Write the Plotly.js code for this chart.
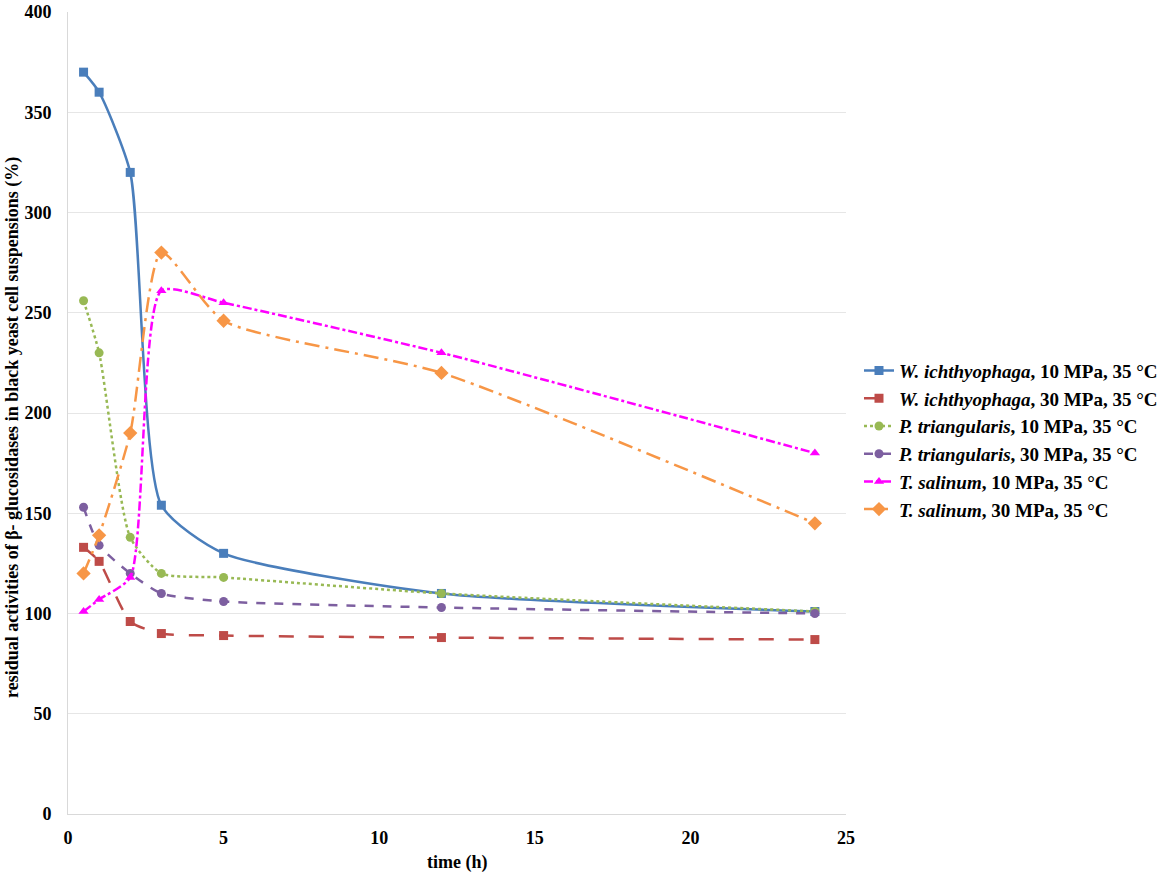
<!DOCTYPE html>
<html>
<head>
<meta charset="utf-8">
<script src="https://cdn.plot.ly/plotly-3.0.1.min.js"></script>
<style>body{margin:0;background:#fff;} #chart{width:1166px;height:877px;}</style>
</head>
<body>
<div id="chart"></div>
<script>
var times = [0.5, 1, 2, 3, 5, 12, 24];

var wich10 = [370, 360, 320, 154, 130, 110, 101];
var wich30 = [133, 126, 96, 90, 89, 88, 87];
var ptri10 = [256, 230, 138, 120, 118, 110, 101];
var ptri30 = [153, 134, 120, 110, 106, 103, 100];
var tsal10 = [101, 107, 118, 261, 255, 230, 180];
var tsal30 = [120, 139, 190, 280, 246, 220, 145];

var seriesNames = [
  "<i>W. ichthyophaga</i>, 10 MPa, 35 °C",
  "<i>W. ichthyophaga</i>, 30 MPa, 35 °C",
  "<i>P. triangularis</i>, 10 MPa, 35 °C",
  "<i>P. triangularis</i>, 30 MPa, 35 °C",
  "<i>T. salinum</i>, 10 MPa, 35 °C",
  "<i>T. salinum</i>, 30 MPa, 35 °C"
];
var seriesValues = [wich10, wich30, ptri10, ptri30, tsal10, tsal30];
var colors = ["#4a7ebb", "#be4b48", "#98b954", "#7d5fa0", "#ff00ff", "#f79646"];
var dashes = ["solid", "longdash", "dot", "dash", "dashdot", "longdashdot"];
var symbols = ["square", "square", "circle", "circle", "triangle-up", "diamond"];

var xTitle = "time (h)";
var yTitle = "residual activities of β- glucosidases in black yeast cell suspensions (%)";

var data = [];
for (var i = 0; i < seriesValues.length; i++) {
  data.push({
    type: "scatter",
    mode: "lines+markers",
    x: times,
    y: seriesValues[i],
    name: seriesNames[i],
    line: {color: colors[i], width: 2.5, dash: dashes[i], shape: "spline", smoothing: 0.6},
    marker: {color: colors[i], size: symbols[i] == "diamond" ? 11 : 9, symbol: symbols[i]}
  });
}

var layout = {
  width: 1166,
  height: 877,
  paper_bgcolor: "#fff",
  plot_bgcolor: "#fff",
  font: {family: "Liberation Serif", size: 18, color: "#000"},
  margin: {l: 68, r: 320, t: 12, b: 63, autoexpand: false},
  xaxis: {
    range: [0, 25],
    tickvals: [0, 5, 10, 15, 20, 25],
    showgrid: false,
    zeroline: false,
    showline: true,
    linecolor: "#d9d9d9",
    ticks: "outside",
    ticklen: 7,
    tickcolor: "rgba(0,0,0,0)",
    tickfont: {family: "Liberation Serif", size: 18, weight: "bold"}
  },
  yaxis: {
    range: [0, 400],
    tickvals: [0, 50, 100, 150, 200, 250, 300, 350, 400],
    showgrid: true,
    gridcolor: "#e6e6e6",
    zeroline: false,
    showline: true,
    linecolor: "#d9d9d9",
    ticks: "outside",
    ticklen: 12,
    tickcolor: "rgba(0,0,0,0)",
    tickfont: {family: "Liberation Serif", size: 18, weight: "bold"}
  },
  annotations: [
    {text: "<b>" + xTitle + "</b>", xref: "paper", yref: "paper", x: 0.5, y: -0.06,
     xanchor: "center", yanchor: "middle", showarrow: false,
     font: {family: "Liberation Serif", size: 18}},
    {text: "<b>" + yTitle + "</b>", xref: "paper", yref: "paper", x: -0.072, y: 0.4825,
     xanchor: "center", yanchor: "middle", textangle: -90, showarrow: false,
     font: {family: "Liberation Serif", size: 18}}
  ],
  legend: {
    x: 1.0167,
    y: 0.466,
    yanchor: "middle",
    font: {family: "Liberation Serif", size: 19, weight: "bold"},
    tracegroupgap: 0,
    itemwidth: 30
  },
  showlegend: true
};

Plotly.newPlot("chart", data, layout, {displayModeBar: false, staticPlot: true});
</script>
</body>
</html>
